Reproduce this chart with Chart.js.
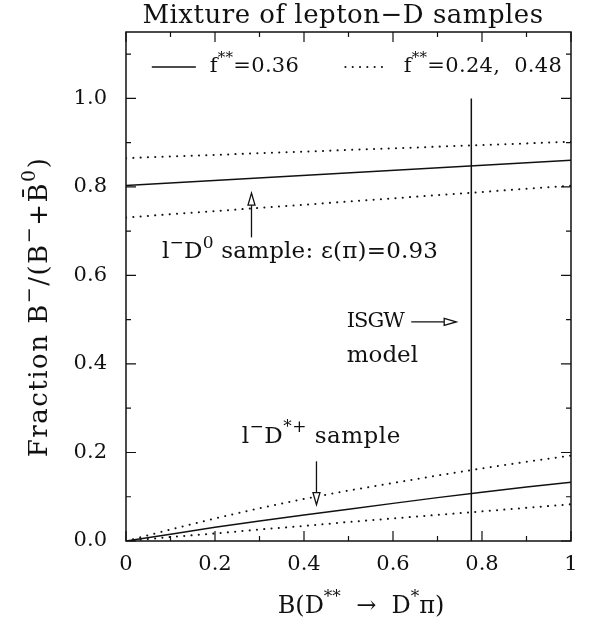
<!DOCTYPE html>
<html>
<head>
<meta charset="utf-8">
<script src="https://cdn.jsdelivr.net/npm/chart.js@4.4.1/dist/chart.umd.min.js"></script>
<style>
  html, body { margin: 0; padding: 0; background: #fff; }
  #wrap { width: 589px; height: 626px; }
</style>
</head>
<body>
<div id="wrap"><canvas id="myChart"></canvas></div>
<script>
// l- D0 sample (straight lines, read at the ends)
const xEnds = [0, 1];
const d0Mid = [0.803, 0.860];
const d0High = [0.865, 0.902];
const d0Low = [0.731, 0.803];

// l- D*+ sample (slightly curved, read every 0.1)
const xSteps = [0, 0.1, 0.2, 0.3, 0.4, 0.5, 0.6, 0.7, 0.8, 0.9, 1];
const dstarMid = [0, 0.015, 0.031, 0.045, 0.059, 0.072, 0.085, 0.098, 0.110, 0.122, 0.133];
const dstarHigh = [0, 0.026, 0.051, 0.074, 0.095, 0.114, 0.131, 0.148, 0.164, 0.179, 0.193];
const dstarLow = [0, 0.009, 0.017, 0.026, 0.034, 0.043, 0.051, 0.059, 0.067, 0.075, 0.083];

// ISGW model prediction
const isgwX = [0.776, 0.776];
const isgwY = [0, 1.0];

const serif = '"DejaVu Serif", "Liberation Serif", serif';
const ink = '#111';

function pts(xs, ys) {
  return xs.map((x, i) => ({x: x, y: ys[i]}));
}

function solid(xs, ys) {
  return {data: pts(xs, ys), borderColor: ink, borderWidth: 1.5, showLine: true, pointRadius: 0, tension: 0};
}
function dotted(xs, ys) {
  return {data: pts(xs, ys), borderColor: ink, borderWidth: 2, borderDash: [0.1, 7.2], borderCapStyle: 'round',
    showLine: true, pointRadius: 0, tension: 0};
}

// draw text with superscript pieces: parts = [[text, isSup], ...]
function richText(ctx, parts, x, y, size, align, spacing) {
  const big = size + 'px ' + serif;
  const small = Math.round(size * 0.72) + 'px ' + serif;
  ctx.letterSpacing = (spacing || 0) + 'px';
  let w = 0;
  parts.forEach(p => { ctx.font = p[1] ? small : big; w += ctx.measureText(p[0]).width; });
  let cx = x;
  if (align === 'center') cx = x - w / 2;
  ctx.textBaseline = 'middle';
  ctx.textAlign = 'left';
  parts.forEach(p => {
    ctx.font = p[1] ? small : big;
    ctx.fillText(p[0], cx, p[1] ? y - size * 0.4 : y);
    cx += ctx.measureText(p[0]).width;
  });
  ctx.letterSpacing = '0px';
}

function hollowArrow(ctx, x1, y1, x2, y2) {
  const ang = Math.atan2(y2 - y1, x2 - x1);
  const hl = 12, hw = 3.5;
  const bx = x2 - hl * Math.cos(ang), by = y2 - hl * Math.sin(ang);
  ctx.beginPath();
  ctx.moveTo(x1, y1);
  ctx.lineTo(bx, by);
  ctx.stroke();
  ctx.beginPath();
  ctx.moveTo(x2, y2);
  ctx.lineTo(bx + hw * Math.sin(ang), by - hw * Math.cos(ang));
  ctx.lineTo(bx - hw * Math.sin(ang), by + hw * Math.cos(ang));
  ctx.closePath();
  ctx.fillStyle = '#fff';
  ctx.fill();
  ctx.stroke();
  ctx.fillStyle = ink;
}

const decor = {
  id: 'decor',
  afterDraw(chart) {
    const ctx = chart.ctx;
    const a = chart.chartArea;
    const xs = chart.scales.x, ys = chart.scales.y;
    const X = v => xs.getPixelForValue(v);
    const Y = v => ys.getPixelForValue(v);
    ctx.save();
    ctx.strokeStyle = ink;
    ctx.fillStyle = ink;
    ctx.lineWidth = 1.5;

    // frame
    ctx.strokeRect(a.left, a.top, a.right - a.left, a.bottom - a.top);

    // inward ticks on all four sides
    ctx.lineWidth = 1.2;
    for (let i = 0; i <= 10; i++) {
      const len = i % 2 === 0 ? 10 : 5;
      const px = X(i / 10);
      ctx.beginPath();
      ctx.moveTo(px, a.bottom); ctx.lineTo(px, a.bottom - len);
      ctx.moveTo(px, a.top); ctx.lineTo(px, a.top + len);
      ctx.stroke();
    }
    for (let i = 0; i <= 11; i++) {
      const len = i % 2 === 0 ? 10 : 5;
      const py = Y(i / 10);
      ctx.beginPath();
      ctx.moveTo(a.left, py); ctx.lineTo(a.left + len, py);
      ctx.moveTo(a.right, py); ctx.lineTo(a.right - len, py);
      ctx.stroke();
    }

    // title
    richText(ctx, [['Mixture of lepton\u2212D samples', 0]], 343, 16, 26, 'center', 0.5);

    // x axis title
    richText(ctx, [['B(D', 0], ['**', 1], ['  \u2192  D', 0], ['*', 1], ['\u03c0)', 0]],
      361, 607, 24, 'center', 0);

    // y axis title (rotated)
    ctx.save();
    ctx.translate(40, 307);
    ctx.rotate(-Math.PI / 2);
    richText(ctx, [['Fraction ', 0], ['B', 0], ['\u2212', 1], ['/(B', 0], ['\u2212', 1], ['+B\u0304', 0], ['0', 1], [')', 0]],
      0, 0, 26, 'center', 1.5);
    ctx.restore();

    // legend
    const ly = Y(1.071);
    ctx.lineWidth = 1.5;
    ctx.beginPath();
    ctx.moveTo(X(0.058), ly); ctx.lineTo(X(0.157), ly);
    ctx.stroke();
    richText(ctx, [['f', 0], ['**', 1], ['=0.36', 0]], X(0.188), ly, 21, 'left', 0.3);
    ctx.save();
    ctx.lineWidth = 2;
    ctx.lineCap = 'round';
    ctx.setLineDash([0.1, 7.2]);
    ctx.beginPath();
    ctx.moveTo(X(0.493), ly); ctx.lineTo(X(0.585), ly);
    ctx.stroke();
    ctx.restore();
    richText(ctx, [['f', 0], ['**', 1], ['=0.24,  0.48', 0]], X(0.624), ly, 21, 'left', 0.3);

    // annotations
    ctx.lineWidth = 1.3;
    richText(ctx, [['l', 0], ['\u2212', 1], ['D', 0], ['0', 1], [' sample: \u03b5(\u03c0)=0.93', 0]],
      X(0.081), Y(0.652), 23, 'left', 0.2);
    hollowArrow(ctx, X(0.282), Y(0.686), X(0.282), Y(0.786));

    richText(ctx, [['ISGW', 0]], X(0.496), Y(0.495), 21, 'left', -1);
    hollowArrow(ctx, X(0.641), Y(0.495), X(0.742), Y(0.495));
    richText(ctx, [['model', 0]], X(0.496), Y(0.418), 23, 'left', 0);

    richText(ctx, [['l', 0], ['\u2212', 1], ['D', 0], ['*+', 1], [' sample', 0]],
      X(0.26), Y(0.236), 23, 'left', 0.5);
    hollowArrow(ctx, X(0.428), Y(0.18), X(0.428), Y(0.082));

    ctx.restore();
  }
};

const config = {
  type: 'scatter',
  data: {
    datasets: [
      solid(xEnds, d0Mid),
      dotted(xEnds, d0High),
      dotted(xEnds, d0Low),
      solid(xSteps, dstarMid),
      dotted(xSteps, dstarHigh),
      dotted(xSteps, dstarLow),
      solid(isgwX, isgwY)
    ]
  },
  options: {
    responsive: true,
    maintainAspectRatio: false,
    animation: false,
    layout: {padding: {left: 0, right: 18, top: 32, bottom: 0}},
    plugins: {legend: {display: false}, tooltip: {enabled: false}},
    scales: {
      x: {
        type: 'linear', min: 0, max: 1,
        grid: {display: false, drawTicks: false},
        border: {display: false},
        ticks: {
          stepSize: 0.1, padding: 11, color: ink, maxRotation: 0, autoSkip: false,
          font: {family: serif, size: 21},
          callback: v => {
            const k = Math.round(v * 10);
            if (k % 2 !== 0) return '';
            if (k === 0) return '0';
            if (k === 10) return '1';
            return (k / 10).toFixed(1);
          }
        },
        afterFit: s => { s.height = 85; }
      },
      y: {
        type: 'linear', min: 0, max: 1.15,
        grid: {display: false, drawTicks: false},
        border: {display: false},
        ticks: {
          stepSize: 0.1, padding: 19, color: ink, autoSkip: false,
          font: {family: serif, size: 21},
          callback: v => {
            const k = Math.round(v * 100);
            if (k % 20 !== 0) return '';
            return (k / 100).toFixed(1);
          }
        },
        afterFit: s => { s.width = 126; }
      }
    }
  },
  plugins: [decor]
};

const myChart = new Chart(document.getElementById('myChart'), config);
</script>
</body>
</html>
